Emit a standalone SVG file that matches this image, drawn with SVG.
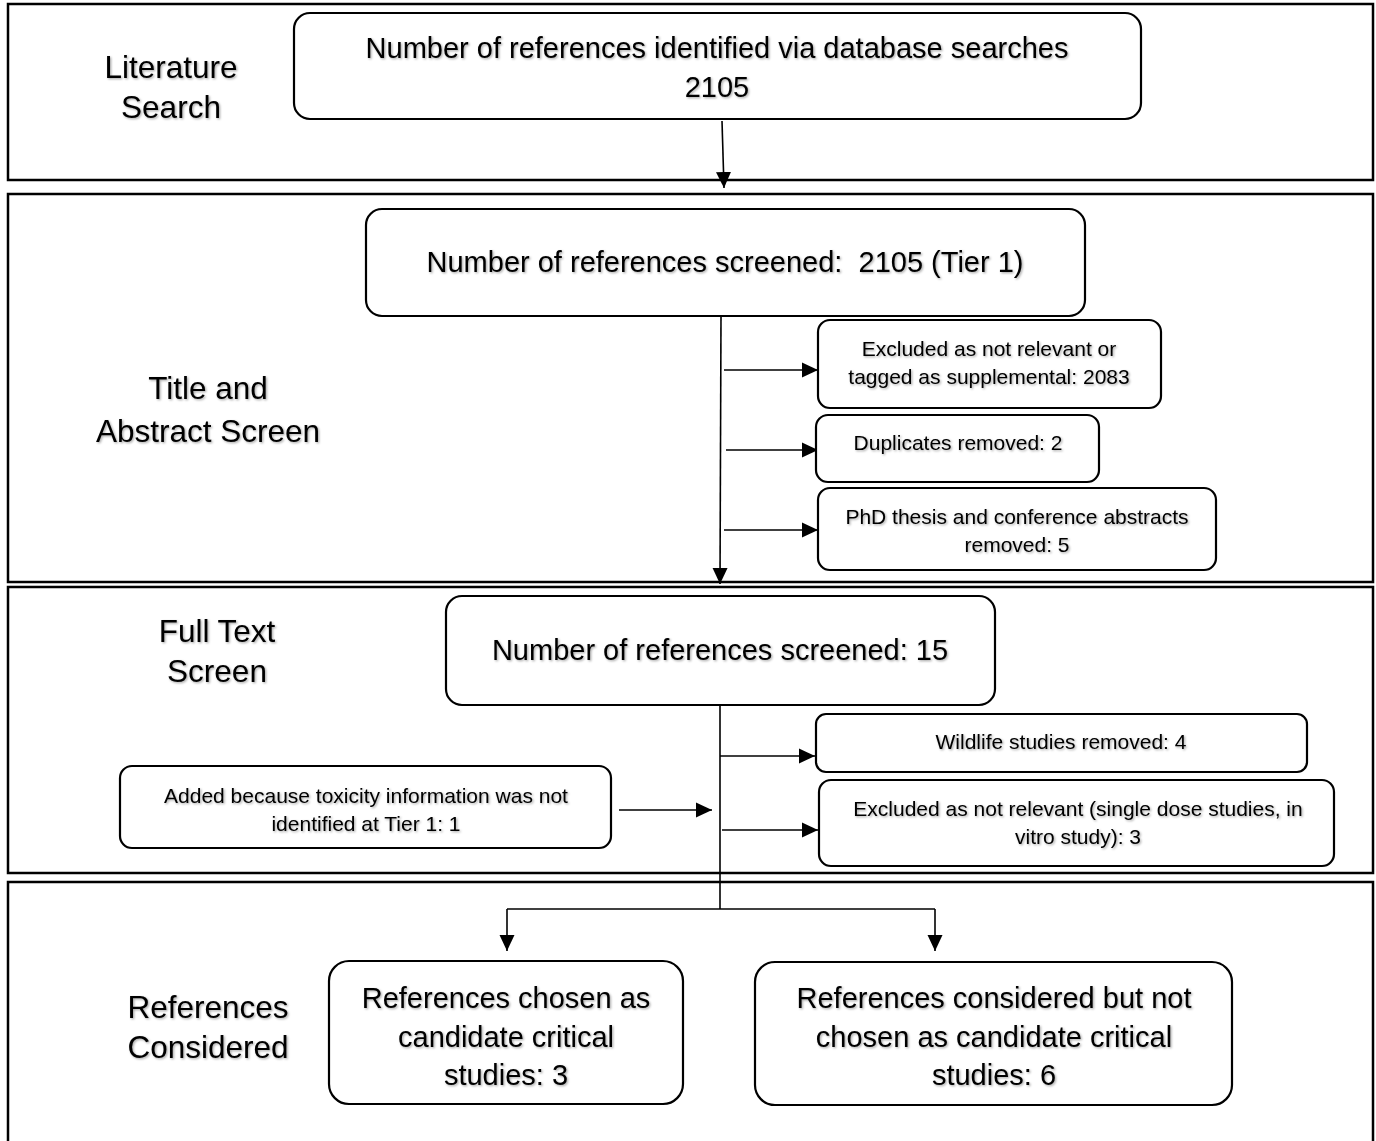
<svg xmlns="http://www.w3.org/2000/svg" width="1376" height="1141" viewBox="0 0 1376 1141">
<defs>
<marker id="ah" markerUnits="userSpaceOnUse" markerWidth="17" markerHeight="17" viewBox="0 0 17 17" refX="16" refY="8.5" orient="auto">
<path d="M0,1 L16,8.5 L0,16 Z" fill="#000"/>
</marker>
<filter id="sh" x="-5%" y="-20%" width="110%" height="140%">
<feDropShadow dx="1.2" dy="1.2" stdDeviation="0.8" flood-color="#000" flood-opacity="0.35"/>
</filter>
</defs>
<style>
.sec{fill:#fff;stroke:#000;stroke-width:2.5}
.box{fill:#fff;stroke:#000;stroke-width:2.2}
text{font-family:"Liberation Sans",Arial,sans-serif;fill:#000;text-anchor:middle;filter:url(#sh);white-space:pre}
.lab{font-size:31.5px}
.big{font-size:29px}
.sm{font-size:21px}
.con{fill:none;stroke:#000;stroke-width:1.6}
</style>
<rect width="1376" height="1141" fill="#fff"/>
<g id="sections">
<rect class="sec" x="8" y="4" width="1365" height="176"/>
<rect class="sec" x="8" y="194" width="1365" height="388"/>
<rect class="sec" x="8" y="587" width="1365" height="286"/>
<rect class="sec" x="8" y="882" width="1365" height="280"/>
</g>
<g id="labels">
<text class="lab" x="171" y="78">Literature</text>
<text class="lab" x="171" y="118">Search</text>
<text class="lab" x="208" y="399">Title and</text>
<text class="lab" x="208" y="442">Abstract Screen</text>
<text class="lab" x="217" y="642">Full Text</text>
<text class="lab" x="217" y="682">Screen</text>
<text class="lab" x="208" y="1018">References</text>
<text class="lab" x="208" y="1058">Considered</text>
</g>
<g id="connectors">
<line class="con" x1="722" y1="121" x2="724" y2="188" marker-end="url(#ah)"/>
<line class="con" x1="721" y1="316" x2="720" y2="584" marker-end="url(#ah)"/>
<line class="con" x1="724" y1="370" x2="818" y2="370" marker-end="url(#ah)"/>
<line class="con" x1="726" y1="450" x2="818" y2="450" marker-end="url(#ah)"/>
<line class="con" x1="724" y1="530" x2="818" y2="530" marker-end="url(#ah)"/>
<line class="con" x1="720" y1="705" x2="720" y2="909"/>
<line class="con" x1="720" y1="756" x2="815" y2="756" marker-end="url(#ah)"/>
<line class="con" x1="722" y1="830" x2="818" y2="830" marker-end="url(#ah)"/>
<line class="con" x1="619" y1="810" x2="712" y2="810" marker-end="url(#ah)"/>
<line class="con" x1="507" y1="909" x2="935" y2="909"/>
<line class="con" x1="507" y1="909" x2="507" y2="951" marker-end="url(#ah)"/>
<line class="con" x1="935" y1="909" x2="935" y2="951" marker-end="url(#ah)"/>
</g>
<g id="n-identified">
<rect class="box" x="294" y="13" width="847" height="106" rx="16"/>
<text class="big" x="717" y="58">Number of references identified via database searches</text>
<text class="big" x="717" y="97">2105</text>
</g>
<g id="n-screened1">
<rect class="box" x="366" y="209" width="719" height="107" rx="16"/>
<text class="big" x="725" y="272" xml:space="preserve">Number of references screened:  2105 (Tier 1)</text>
</g>
<g id="n-excl1">
<rect class="box" x="818" y="320" width="343" height="88" rx="12"/>
<text class="sm" x="989" y="356">Excluded as not relevant or</text>
<text class="sm" x="989" y="384">tagged as supplemental: 2083</text>
</g>
<g id="n-dup">
<rect class="box" x="816" y="415" width="283" height="67" rx="12"/>
<text class="sm" x="958" y="450">Duplicates removed: 2</text>
</g>
<g id="n-phd">
<rect class="box" x="818" y="488" width="398" height="82" rx="12"/>
<text class="sm" x="1017" y="524">PhD thesis and conference abstracts</text>
<text class="sm" x="1017" y="552">removed: 5</text>
</g>
<g id="n-screened2">
<rect class="box" x="446" y="596" width="549" height="109" rx="16"/>
<text class="big" x="720" y="660">Number of references screened: 15</text>
</g>
<g id="n-wildlife">
<rect class="box" x="816" y="714" width="491" height="58" rx="10"/>
<text class="sm" x="1061" y="749">Wildlife studies removed: 4</text>
</g>
<g id="n-excl2">
<rect class="box" x="819" y="780" width="515" height="86" rx="12"/>
<text class="sm" x="1078" y="816">Excluded as not relevant (single dose studies, in</text>
<text class="sm" x="1078" y="844">vitro study): 3</text>
</g>
<g id="n-added">
<rect class="box" x="120" y="766" width="491" height="82" rx="12"/>
<text class="sm" x="366" y="803">Added because toxicity information was not</text>
<text class="sm" x="366" y="831">identified at Tier 1: 1</text>
</g>
<g id="n-chosen">
<rect class="box" x="329" y="961" width="354" height="143" rx="20"/>
<text class="big" x="506" y="1008">References chosen as</text>
<text class="big" x="506" y="1047">candidate critical</text>
<text class="big" x="506" y="1085">studies: 3</text>
</g>
<g id="n-notchosen">
<rect class="box" x="755" y="962" width="477" height="143" rx="20"/>
<text class="big" x="994" y="1008">References considered but not</text>
<text class="big" x="994" y="1047">chosen as candidate critical</text>
<text class="big" x="994" y="1085">studies: 6</text>
</g>
</svg>
